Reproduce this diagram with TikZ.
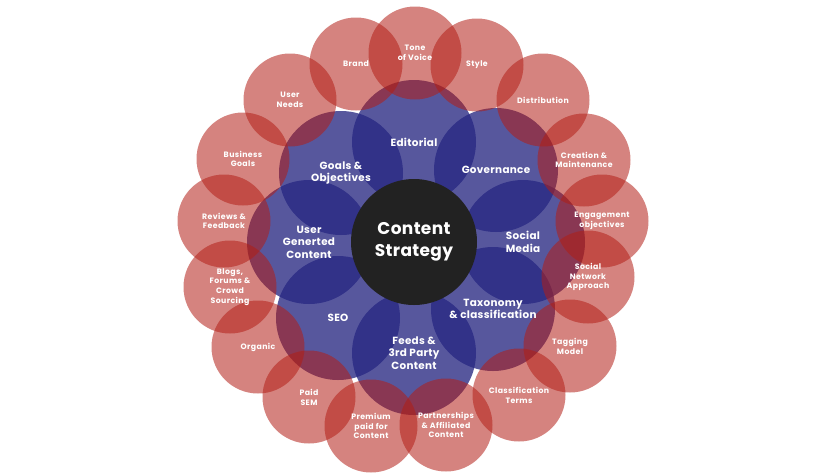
\documentclass[tikz,border=0pt]{standalone}
\usepackage{fontspec}
\setmainfont{Poppins}
\definecolor{cblue}{RGB}{40,40,130}
\definecolor{cred}{RGB}{178,30,22}
\definecolor{ccore}{RGB}{34,34,34}
\begin{document}
\begin{tikzpicture}[x=1pt,y=-1pt,
  bluec/.style={circle,minimum size=124pt,inner sep=0pt,fill=cblue,fill opacity=0.78},
  redc/.style={circle,minimum size=93pt,inner sep=0pt,fill=cred,fill opacity=0.55},
  corec/.style={circle,minimum size=126pt,inner sep=0pt,fill=ccore},
  rt/.style={text=white,align=center,inner sep=0pt,font=\fontsize{7.8}{9.8}\selectfont\bfseries\addfontfeatures{LetterSpace=5}},
  bt/.style={text=white,align=center,inner sep=0pt,font=\fontsize{10.4}{12.5}\selectfont\bfseries\addfontfeatures{LetterSpace=3}},
  ct/.style={text=white,align=center,inner sep=0pt,font=\fontsize{17}{22}\selectfont\bfseries\addfontfeatures{LetterSpace=2}}]
\path[use as bounding box] (0,0) rectangle (825,475);
% blue ring
\node[bluec] (ed) at (414,142) {};
\node[bluec] (gov) at (496,170) {};
\node[bluec] (soc) at (523,242) {};
\node[bluec] (tax) at (493,309) {};
\node[bluec] (fee) at (414,353) {};
\node[bluec] (seo) at (338,318) {};
\node[bluec] (ugc) at (309,242) {};
\node[bluec] (goa) at (341,173) {};
% core
\node[corec] (core) at (414,242) {};
% red ring
\node[redc] (tone) at (415,53) {};
\node[redc] (sty) at (477,65) {};
\node[redc] (dis) at (543,100) {};
\node[redc] (cre) at (584,160) {};
\node[redc] (eng) at (602,221) {};
\node[redc] (sna) at (588,277) {};
\node[redc] (tag) at (570,346) {};
\node[redc] (cla) at (519,395) {};
\node[redc] (par) at (446,425) {};
\node[redc] (pre) at (371,426) {};
\node[redc] (sem) at (309,397) {};
\node[redc] (org) at (258,347) {};
\node[redc] (blo) at (230,287) {};
\node[redc] (rev) at (224,221) {};
\node[redc] (bus) at (243,159) {};
\node[redc] (use) at (290,100) {};
\node[redc] (bra) at (356,64) {};
% texts
\node[ct] (core-t) at (core) {Content\\Strategy};
\node[bt] (ed-t) at (ed) {Editorial};
\node[bt] (gov-t) at (gov) {Governance};
\node[bt] (soc-t) at (soc) {Social\\Media};
\node[bt] (tax-t) at (tax) {Taxonomy\\\& classification};
\node[bt] (fee-t) at (fee) {Feeds \&\\3rd Party\\Content};
\node[bt] (seo-t) at (seo) {SEO};
\node[bt] (ugc-t) at (ugc) {User\\Generted\\Content};
\node[bt] (goa-t) at (goa) {Goals \&\\Objectives};
\node[rt] (tone-t) at (tone) {Tone\\of Voice};
\node[rt] (sty-t) at (sty) {Style};
\node[rt] (dis-t) at (dis) {Distribution};
\node[rt] (cre-t) at (cre) {Creation \&\\Maintenance};
\node[rt] (eng-t) at (eng) {Engagement\\objectives};
\node[rt] (sna-t) at (sna) {Social\\Network\\Approach};
\node[rt] (tag-t) at (tag) {Tagging\\Model};
\node[rt] (cla-t) at (cla) {Classification\\Terms};
\node[rt] (par-t) at (par) {Partnerships\\\& Affiliated\\Content};
\node[rt] (pre-t) at (pre) {Premium\\paid for\\Content};
\node[rt] (sem-t) at (sem) {Paid\\SEM};
\node[rt] (org-t) at (org) {Organic};
\node[rt] (blo-t) at (blo) {Blogs,\\Forums \&\\Crowd\\Sourcing};
\node[rt] (rev-t) at (rev) {Reviews \&\\Feedback};
\node[rt] (bus-t) at (bus) {Business\\Goals};
\node[rt] (use-t) at (use) {User\\Needs};
\node[rt] (bra-t) at (bra) {Brand};
\end{tikzpicture}
\end{document}
